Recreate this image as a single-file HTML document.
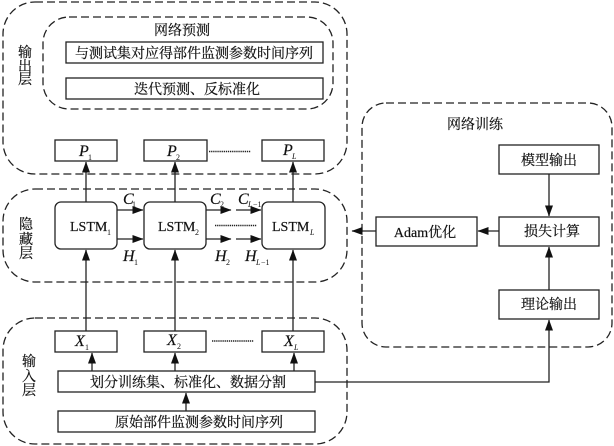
<!DOCTYPE html>
<html><head><meta charset="utf-8">
<style>
html,body{margin:0;padding:0;background:#fff}
svg{display:block;filter:blur(0.35px)}
text{fill:#111;stroke:#111;stroke-width:.2px;font-family:"Liberation Serif","Noto Serif CJK SC",serif}
.c{font-size:14px;text-anchor:middle}
.i{font-style:italic;font-size:16px}
.s{font-size:8px;stroke-width:0}
.si{font-size:8px;font-style:italic;stroke-width:0}
</style></head><body>
<svg width="614" height="446" viewBox="0 0 614 446" xmlns="http://www.w3.org/2000/svg">
<defs>
<marker id="a" markerUnits="userSpaceOnUse" markerWidth="12" markerHeight="10" refX="10.500" refY="4" orient="auto"><path d="M0 0L11 4L0 8z" fill="#111"/></marker>
</defs>
<g fill="none" stroke="#222" stroke-width="1.300" stroke-dasharray="8 4">
<rect x="3" y="2" width="344" height="172" rx="32"/>
<rect x="43" y="17" width="290" height="92" rx="26"/>
<rect x="3" y="189" width="344" height="93" rx="32"/>
<rect x="3" y="318" width="344" height="126" rx="32"/>
<rect x="362" y="103" width="250" height="244" rx="24"/>
</g>
<g fill="#fff" stroke="#222" stroke-width="1.300">
<rect x="66" y="42" width="257" height="21"/>
<rect x="66" y="78" width="257" height="21"/>
<rect x="55" y="140" width="62" height="21"/>
<rect x="144" y="140" width="63" height="21"/>
<rect x="262" y="140" width="62" height="21"/>
<rect x="55" y="202" width="62" height="47" rx="6"/>
<rect x="144" y="202" width="62" height="47" rx="6"/>
<rect x="262" y="202" width="63" height="47" rx="6"/>
<rect x="55" y="331" width="62" height="21"/>
<rect x="144" y="331" width="62" height="21"/>
<rect x="262" y="331" width="62" height="21"/>
<rect x="58" y="371" width="257" height="21"/>
<rect x="58" y="411" width="257" height="21"/>
<rect x="499" y="145" width="100" height="29"/>
<rect x="499" y="217" width="100" height="29"/>
<rect x="499" y="290" width="100" height="29"/>
<rect x="376" y="217" width="101" height="29"/>
</g>
<g fill="none" stroke="#222" stroke-width="1.300">
<path d="M86 202V162" marker-end="url(#a)"/>
<path d="M175 202V162" marker-end="url(#a)"/>
<path d="M293 202V162" marker-end="url(#a)"/>
<path d="M86 331V250" marker-end="url(#a)"/>
<path d="M175 331V250" marker-end="url(#a)"/>
<path d="M293 331V250" marker-end="url(#a)"/>
<path d="M92 371V353" marker-end="url(#a)"/>
<path d="M175 371V353" marker-end="url(#a)"/>
<path d="M294 371V353" marker-end="url(#a)"/>
<path d="M186 411V393" marker-end="url(#a)"/>
<path d="M117 210H143" marker-end="url(#a)"/>
<path d="M117 239H143" marker-end="url(#a)"/>
<path d="M206 210H231" marker-end="url(#a)"/>
<path d="M206 239H231" marker-end="url(#a)"/>
<path d="M236 210H261" marker-end="url(#a)"/>
<path d="M236 239H261" marker-end="url(#a)"/>
<path d="M549 174V216" marker-end="url(#a)"/>
<path d="M549 290V247" marker-end="url(#a)"/>
<path d="M315 382H549V320" marker-end="url(#a)"/>
<path d="M499 231H478" marker-end="url(#a)"/>
<path d="M376 231H352" marker-end="url(#a)"/>
<g stroke-dasharray="1.300 .8" stroke-width="1.500">
<path d="M209 151.500H251"/>
<path d="M215 225.500H257"/>
<path d="M212 341H254"/>
</g>
</g>
<text class="c" x="182" y="35">网络预测</text>
<text class="c" x="194" y="58">与测试集对应得部件监测参数时间序列</text>
<text class="c" x="197" y="94">迭代预测、反标准化</text>
<text class="c" x="25" y="57">输</text><text class="c" x="25" y="71">出</text><text class="c" x="25" y="84">层</text>
<text class="c" x="26" y="229">隐</text><text class="c" x="26" y="244">藏</text><text class="c" x="26" y="258">层</text>
<text class="c" x="29" y="366">输</text><text class="c" x="29" y="381">入</text><text class="c" x="29" y="395">层</text>
<text class="c" x="188" y="387">划分训练集、标准化、数据分割</text>
<text class="c" x="199" y="427">原始部件监测参数时间序列</text>
<text class="c" x="475" y="129">网络训练</text>
<text class="c" x="549" y="165">模型输出</text>
<text class="c" x="552" y="236">损失计算</text>
<text class="c" x="549" y="309">理论输出</text>
<text class="c" x="425" y="237">Adam优化</text>

<text class="i" x="79" y="156">P</text><text class="s" x="88" y="160">1</text>
<text class="i" x="167" y="156">P</text><text class="s" x="176" y="160">2</text>
<text class="i" x="283" y="155">P</text><text class="si" x="292" y="159">L</text>

<text x="70" y="231" font-size="14">LSTM</text><text class="s" x="107" y="235">1</text>
<text x="158" y="231" font-size="14">LSTM</text><text class="s" x="195" y="235">2</text>
<text x="272" y="231" font-size="14">LSTM</text><text class="si" x="310" y="235">L</text>

<text class="i" x="123" y="204">C</text><text class="s" x="132" y="207">1</text>
<text class="i" x="210" y="204">C</text><text class="s" x="220" y="207">2</text>
<text class="i" x="238" y="204">C</text><text class="si" x="248" y="207">L</text><text class="s" x="253" y="207">−1</text>
<text class="i" x="123" y="261">H</text><text class="s" x="134" y="265">1</text>
<text class="i" x="215" y="261">H</text><text class="s" x="226" y="265">2</text>
<text class="i" x="245" y="261">H</text><text class="si" x="256" y="265">L</text><text class="s" x="261" y="265">−1</text>

<text class="i" x="75" y="346">X</text><text class="s" x="85" y="350">1</text>
<text class="i" x="167" y="345">X</text><text class="s" x="177" y="349">2</text>
<text class="i" x="284" y="346">X</text><text class="si" x="294" y="350">L</text>
</svg>
</body></html>
